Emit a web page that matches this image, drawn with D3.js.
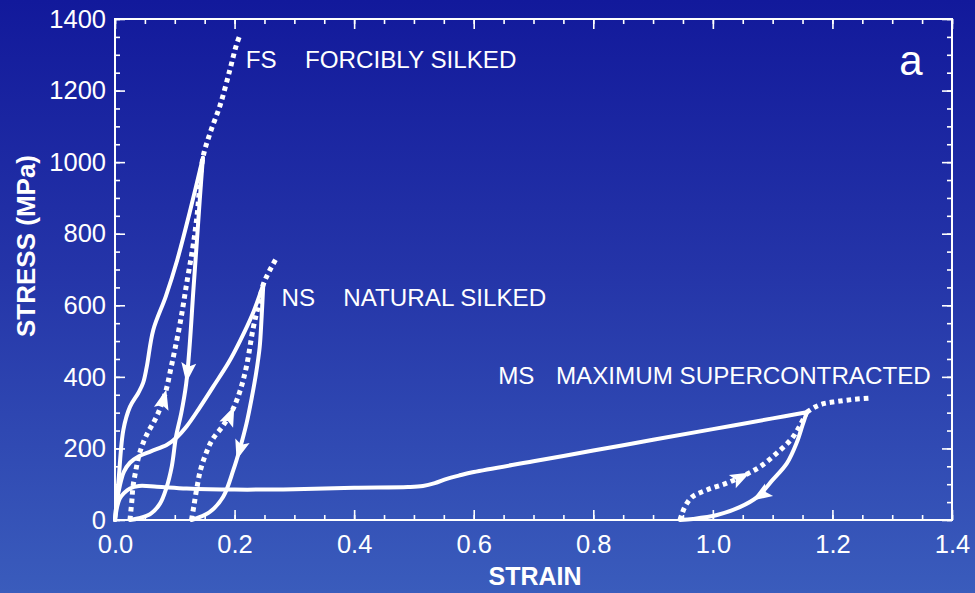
<!DOCTYPE html>
<html>
<head>
<meta charset="utf-8">
<script src="https://cdn.jsdelivr.net/npm/d3@7"></script>
<style>
  html, body { margin: 0; padding: 0; background: #2a44b0; }
  svg { display: block; font-family: "Liberation Sans", Arial, sans-serif; }
</style>
</head>
<body>
<svg id="chart" width="975" height="593"></svg>
<script>
// Stress–strain cycles of spider silk: strain (mm/mm) vs stress (MPa)

// Forcibly silked fibre
const fsLoad = [[0,0],[0.006,112],[0.014,252],[0.025,316],[0.039,355],[0.047,383],[0.053,427],[0.064,531],[0.085,625],[0.104,726],[0.125,860],[0.147,1012]];
const fsUnload = [[0.147,1012],[0.142,900],[0.137,780],[0.131,640],[0.125,490],[0.119,380],[0.111,300],[0.102,232],[0.095,150],[0.086,90],[0.075,45],[0.06,18],[0.04,5],[0.025,0]];
const fsReload = [[0.025,0],[0.028,50],[0.03,92],[0.035,140],[0.04,180],[0.047,215],[0.055,245],[0.064,271],[0.075,310],[0.085,360],[0.093,420],[0.1,475],[0.11,560],[0.12,662],[0.13,760],[0.137,847],[0.147,1012],[0.159,1081],[0.176,1160],[0.192,1257],[0.203,1327],[0.209,1355]];

// Naturally silked fibre
const nsLoad = [[0,0],[0.003,50],[0.008,95],[0.015,135],[0.025,160],[0.04,178],[0.06,192],[0.087,210],[0.104,232],[0.12,262],[0.14,310],[0.164,372],[0.19,440],[0.209,500],[0.23,575],[0.248,658]];
const nsUnload = [[0.248,658],[0.245,560],[0.242,483],[0.236,410],[0.229,344],[0.22,270],[0.209,200],[0.198,140],[0.181,65],[0.159,23],[0.137,5],[0.128,0]];
const nsReload = [[0.128,0],[0.132,40],[0.137,90],[0.143,140],[0.152,185],[0.163,225],[0.18,262],[0.196,305],[0.209,360],[0.22,430],[0.231,535],[0.24,600],[0.248,658],[0.258,695],[0.27,732]];

// Maximum supercontracted fibre
const msLoad = [[0,0],[0.004,40],[0.008,60],[0.015,75],[0.025,88],[0.04,95],[0.07,93],[0.12,88],[0.2,85],[0.3,86],[0.4,90],[0.49,92],[0.515,95],[0.535,103],[0.555,115],[0.575,124],[0.6,134],[0.7,164],[0.8,194],[0.9,224],[1.0,254],[1.1,284],[1.157,301]];
const msExtend = [[1.157,301],[1.17,315],[1.185,325],[1.207,331],[1.235,337],[1.266,341]];
const msUnload = [[1.157,301],[1.15,265],[1.14,215],[1.124,159],[1.1,112],[1.074,64],[1.045,36],[1.007,14],[0.967,3],[0.945,0]];
const msReload = [[0.945,0],[0.948,15],[0.953,36],[0.965,64],[0.99,84],[1.023,103],[1.054,126],[1.079,149],[1.107,187],[1.134,232],[1.157,301]];

// Which curves are solid and which dotted
const solidCurves = [fsLoad, fsUnload, nsLoad, nsUnload, msLoad, msUnload];
const dottedCurves = [fsReload, nsReload, msExtend, msReload];

// Arrowheads: curve and (strain, stress) where the head sits
const arrows = [
  { curve: fsUnload, at: [0.119, 383] },
  { curve: fsReload, at: [0.085, 365] },
  { curve: nsUnload, at: [0.209, 165] },
  { curve: nsReload, at: [0.199, 318] },
  { curve: msReload, at: [1.062, 133] },
  { curve: msUnload, at: [1.065, 56] }
];

// Curve labels: (strain, stress) of the text baseline start
const labels = [
  { text: "FS", at: [0.2186, 1263] },
  { text: "FORCIBLY SILKED", at: [0.3177, 1263] },
  { text: "NS", at: [0.2787, 599] },
  { text: "NATURAL SILKED", at: [0.3818, 599] },
  { text: "MS", at: [0.641, 379] },
  { text: "MAXIMUM SUPERCONTRACTED", at: [0.7375, 379] }
];

const xMajor = [0, 0.2, 0.4, 0.6, 0.8, 1.0, 1.2, 1.4];
const xMinor = d3.range(0, 1.4001, 0.05);
const yMajor = [0, 200, 400, 600, 800, 1000, 1200, 1400];
const yMinor = d3.range(0, 1401, 50);

const svg = d3.select("#chart");
const W = 975, H = 593;

// Background gradient
const defs = svg.append("defs");
const grad = defs.append("linearGradient").attr("id", "bg").attr("x1", 0).attr("y1", 0).attr("x2", 0).attr("y2", 1);
grad.append("stop").attr("offset", "0%").attr("stop-color", "#12199b");
grad.append("stop").attr("offset", "45%").attr("stop-color", "#2434a8");
grad.append("stop").attr("offset", "100%").attr("stop-color", "#3a5cbc");
svg.append("rect").attr("width", W).attr("height", H).attr("fill", "url(#bg)");

const x = d3.scaleLinear().domain([0, 1.4]).range([115, 952]);
const y = d3.scaleLinear().domain([0, 1400]).range([520, 19]);

const white = "#ffffff";

// Axes with inward ticks on all four sides
function styleAxis(g) {
  g.select(".domain").remove();
  g.selectAll(".tick line").attr("stroke", white).attr("stroke-width", 1.6);
  g.selectAll(".tick text").attr("fill", white).attr("font-size", 25.5).attr("font-family", "Liberation Sans, Arial, sans-serif");
}
const plotBottom = y(0), plotTop = y(1400), plotLeft = x(0), plotRight = x(1.4);

svg.append("g").attr("transform", `translate(0,${plotBottom})`)
  .call(d3.axisBottom(x).tickValues(xMinor).tickSize(-5).tickFormat(""))
  .call(styleAxis);
svg.append("g").attr("transform", `translate(0,${plotBottom})`)
  .call(d3.axisBottom(x).tickValues(xMajor).tickSize(-10).tickPadding(15).tickFormat(d3.format(".1f")))
  .call(styleAxis);
svg.append("g").attr("transform", `translate(0,${plotTop})`)
  .call(d3.axisTop(x).tickValues(xMinor).tickSize(-5).tickFormat(""))
  .call(styleAxis);
svg.append("g").attr("transform", `translate(0,${plotTop})`)
  .call(d3.axisTop(x).tickValues(xMajor).tickSize(-10).tickFormat(""))
  .call(styleAxis);
svg.append("g").attr("transform", `translate(${plotLeft},0)`)
  .call(d3.axisLeft(y).tickValues(yMinor).tickSize(-5).tickFormat(""))
  .call(styleAxis);
svg.append("g").attr("transform", `translate(${plotLeft},0)`)
  .call(d3.axisLeft(y).tickValues(yMajor).tickSize(-10).tickPadding(9).tickFormat(d3.format("d")))
  .call(styleAxis);
svg.append("g").attr("transform", `translate(${plotRight},0)`)
  .call(d3.axisRight(y).tickValues(yMinor).tickSize(-5).tickFormat(""))
  .call(styleAxis);
svg.append("g").attr("transform", `translate(${plotRight},0)`)
  .call(d3.axisRight(y).tickValues(yMajor).tickSize(-10).tickFormat(""))
  .call(styleAxis);

// Frame
svg.append("rect")
  .attr("x", plotLeft).attr("y", plotTop)
  .attr("width", plotRight - plotLeft).attr("height", plotBottom - plotTop)
  .attr("fill", "none").attr("stroke", white).attr("stroke-width", 2);

// Axis titles
svg.append("text")
  .attr("x", 535).attr("y", 585)
  .attr("text-anchor", "middle").attr("fill", white)
  .attr("font-size", 25).attr("font-weight", "bold")
  .text("STRAIN");
svg.append("text")
  .attr("transform", `translate(35,246) rotate(-90)`)
  .attr("text-anchor", "middle").attr("fill", white)
  .attr("font-size", 26).attr("font-weight", "bold")
  .text("STRESS (MPa)");

// Curves
const line = d3.line()
  .x(d => x(d[0])).y(d => y(d[1]))
  .curve(d3.curveCatmullRom.alpha(0.5));

const curveGroup = svg.append("g");
const pathFor = new Map();
solidCurves.forEach(c => {
  const p = curveGroup.append("path").datum(c)
    .attr("d", line).attr("fill", "none")
    .attr("stroke", white).attr("stroke-width", 4)
    .attr("stroke-linejoin", "round").attr("stroke-linecap", "round");
  pathFor.set(c, p.node());
});
dottedCurves.forEach(c => {
  const p = curveGroup.append("path").datum(c)
    .attr("d", line).attr("fill", "none")
    .attr("stroke", white).attr("stroke-width", 5)
    .attr("stroke-dasharray", "4.5,4")
    .attr("stroke-linecap", "butt");
  pathFor.set(c, p.node());
});

// Arrowheads oriented along the drawing direction of each curve
arrows.forEach(a => {
  const node = pathFor.get(a.curve);
  const total = node.getTotalLength();
  const tx = x(a.at[0]), ty = y(a.at[1]);
  let best = 0, bestD = Infinity;
  for (let l = 0; l <= total; l += 0.5) {
    const p = node.getPointAtLength(l);
    const d = (p.x - tx) ** 2 + (p.y - ty) ** 2;
    if (d < bestD) { bestD = d; best = l; }
  }
  const p0 = node.getPointAtLength(Math.max(0, best - 5));
  const p1 = node.getPointAtLength(Math.min(total, best + 5));
  const tip = node.getPointAtLength(best);
  const ang = Math.atan2(p1.y - p0.y, p1.x - p0.x) * 180 / Math.PI;
  svg.append("path")
    .attr("d", "M0,0 L-20,-7.5 L-16,0 L-20,7.5 Z")
    .attr("fill", white)
    .attr("transform", `translate(${tip.x},${tip.y}) rotate(${ang})`);
});

// Curve labels
svg.append("g").selectAll("text").data(labels).join("text")
  .attr("x", d => x(d.at[0])).attr("y", d => y(d.at[1]))
  .attr("fill", white).attr("font-size", 24.2)
  .text(d => d.text);

// Panel letter
svg.append("text")
  .attr("x", 911).attr("y", 75)
  .attr("text-anchor", "middle").attr("fill", white)
  .attr("font-size", 42)
  .text("a");
</script>
</body>
</html>
